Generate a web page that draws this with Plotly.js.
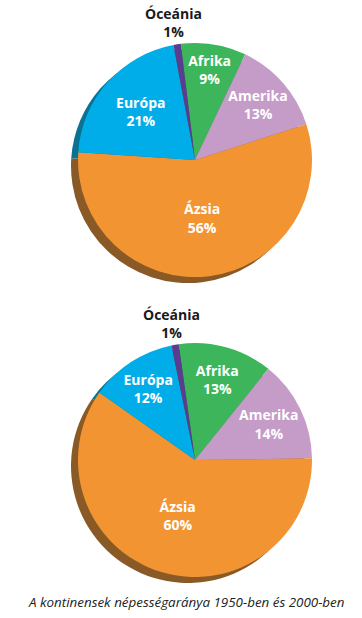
<!DOCTYPE html>
<html><head><meta charset="utf-8">
<script src="https://cdn.plot.ly/plotly-3.0.1.min.js"></script>
<style>html,body{margin:0;padding:0;background:#fff}#c{width:362px;height:618px}</style>
</head><body><div id="c"></div>
<script>
const continents = ["Afrika", "Amerika", "Ázsia", "Európa", "Óceánia"];
const share1950 = [9, 13, 56, 21, 1];
const share2000 = [13, 14, 60, 12, 1];
const sliceColors = ["#3DB65B", "#C59BC7", "#F39433", "#00ADE9", "#5A3D91"];
const shadowColors = ["#2A7A3E", "#86658A", "#8A5A26", "#0A7391", "#3A2660"];
const caption = "A kontinensek népességaránya 1950-ben és 2000-ben";
const outsideLabel = "Óceánia";

const W = 362, H = 618;
const R = 117;
function dom(cx, cy, dx, dy) {
  const x = cx + dx, y = cy + dy;
  return { x: [(x - R) / W, (x + R) / W], y: [(H - y - R) / H, (H - y + R) / H] };
}
const labelFont = { family: "Open Sans, sans-serif", size: 14, color: "#ffffff" };
const outFont = { family: "Open Sans, sans-serif", size: 14, color: "#1a1a1a" };

function pieTraces(values, cx, cy, rot) {
  const common = {
    type: "pie", labels: continents, values: values, sort: false,
    direction: "clockwise", rotation: rot, hole: 0
  };
  const shadow = Object.assign({}, common, {
    domain: dom(cx, cy, -7, 6),
    marker: { colors: shadowColors, line: { width: 0 } },
    textinfo: "none", hoverinfo: "skip", showlegend: false
  });
  const main = Object.assign({}, common, {
    domain: dom(cx, cy, 0, 0),
    marker: { colors: sliceColors, line: { width: 0 } },
    texttemplate: continents.map((c, i) => "<b>" + c + "</b><br><b>" + values[i] + "%</b>"),
    textinfo: "text",
    textposition: continents.map(c => c === outsideLabel ? "none" : "inside"),
    insidetextorientation: "horizontal",
    insidetextfont: labelFont,
    showlegend: false
  });
  return [shadow, main];
}

// label for the thin slice, placed along that slice's mid angle (derived from the data)
function outsideAnnotation(values, cx, cy, rot) {
  const total = values.reduce((a, b) => a + b, 0);
  const idx = continents.indexOf(outsideLabel);
  let before = 0;
  for (let i = 0; i < idx; i++) before += values[i];
  const mid = (rot + 360 * (before + values[idx] / 2) / total) * Math.PI / 180;
  const d = R + 22;
  const px = cx + Math.sin(mid) * d;
  const py = cy - Math.cos(mid) * d;
  return {
    text: "<b>" + outsideLabel + "</b><br><b>" + values[idx] + "%</b>",
    xref: "paper", yref: "paper", x: px / W, y: 1 - py / H,
    xanchor: "center", yanchor: "middle", showarrow: false, font: outFont
  };
}

const data = [].concat(pieTraces(share1950, 195, 160, -7), pieTraces(share2000, 195, 460, -8));
const layout = {
  width: W, height: H, margin: { l: 0, r: 0, t: 0, b: 0 },
  paper_bgcolor: "#fff", showlegend: false,
  uniformtext: { mode: "show", minsize: 14 },
  annotations: [
    outsideAnnotation(share1950, 195, 160, -7),
    outsideAnnotation(share2000, 195, 460, -8),
    {
      text: "<i>" + caption + "</i>", xref: "paper", yref: "paper",
      x: 186 / W, y: 1 - 602 / H, xanchor: "center", yanchor: "middle", showarrow: false,
      font: { family: "Open Sans, sans-serif", size: 13.4, color: "#222" }
    }
  ]
};
Plotly.newPlot("c", data, layout, { staticPlot: true });
</script></body></html>
